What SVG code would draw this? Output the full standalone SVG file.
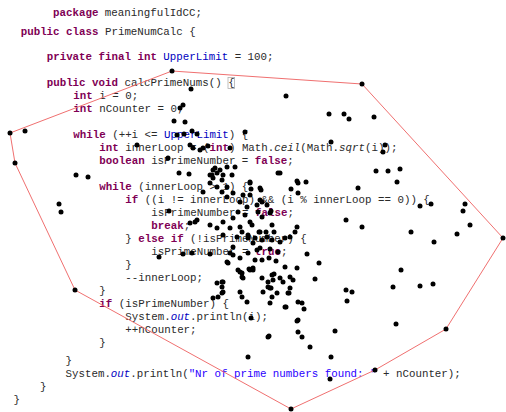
<svg xmlns="http://www.w3.org/2000/svg" width="506" height="412" viewBox="0 0 506 412">
  <style>
    .code { font-family: "Liberation Mono", "Courier New", monospace; font-size: 10.8px; fill: #2a2a2a; white-space: pre; }
    .kw { fill: #7f0055; font-weight: bold; }
    .fld { fill: #0000c0; }
    .str { fill: #2a00ff; }
    .stat { fill: #0000c0; font-style: italic; }
    .it { font-style: italic; }
    .hull { fill: none; stroke: #f07070; stroke-width: 1; }
    .pt { fill: #000; }
  </style>
  <rect width="506" height="412" fill="#fff"/>

  <!-- source listing -->
  <g id="code" class="code">
    <text x="53" y="16"><tspan class="kw">package</tspan> meaningfulIdCC;</text>
    <text x="20.7" y="34.5"><tspan class="kw">public</tspan> <tspan class="kw">class</tspan> PrimeNumCalc {</text>
    <text x="46.7" y="60"><tspan class="kw">private</tspan> <tspan class="kw">final</tspan> <tspan class="kw">int</tspan> <tspan class="fld">UpperLimit</tspan> = 100;</text>
    <rect x="228" y="77.5" width="6.6" height="11" fill="none" stroke="#b0b0b0" stroke-width="0.8"/>
    <text x="46.7" y="86"><tspan class="kw">public</tspan> <tspan class="kw">void</tspan> calcPrimeNums() {</text>
    <text x="73.3" y="99"><tspan class="kw">int</tspan> i = 0;</text>
    <text x="73.3" y="112"><tspan class="kw">int</tspan> nCounter = 0;</text>
    <text x="73.3" y="138"><tspan class="kw">while</tspan> (++i &lt;= <tspan class="fld">UpperLimit</tspan>) {</text>
    <text x="99.3" y="151"><tspan class="kw">int</tspan> innerLoop = (<tspan class="kw">int</tspan>) Math.<tspan class="it">ceil</tspan>(Math.<tspan class="it">sqrt</tspan>(i));</text>
    <text x="99.3" y="164"><tspan class="kw">boolean</tspan> isPrimeNumber = <tspan class="kw">false</tspan>;</text>
    <text x="99.3" y="190"><tspan class="kw">while</tspan> (innerLoop &gt; 1) {</text>
    <text x="125.3" y="203"><tspan class="kw">if</tspan> ((i != innerLoop) &amp;&amp; (i % innerLoop == 0)) {</text>
    <text x="151.3" y="216">isPrimeNumber = <tspan class="kw">false</tspan>;</text>
    <text x="151.3" y="229"><tspan class="kw">break</tspan>;</text>
    <text x="125.3" y="242">} <tspan class="kw">else</tspan> <tspan class="kw">if</tspan> (!isPrimeNumber) {</text>
    <text x="151.3" y="254.5">isPrimeNumber = <tspan class="kw">true</tspan>;</text>
    <text x="125.3" y="268">}</text>
    <text x="125.3" y="280.5">--innerLoop;</text>
    <text x="99.3" y="294">}</text>
    <text x="99.3" y="306.5"><tspan class="kw">if</tspan> (isPrimeNumber) {</text>
    <text x="125.3" y="319.5">System.<tspan class="stat">out</tspan>.println(i);</text>
    <text x="125.3" y="332.5">++nCounter;</text>
    <text x="99.3" y="345.5">}</text>
    <text x="65.5" y="363.5">}</text>
    <text x="65.5" y="377">System.<tspan class="stat">out</tspan>.println(<tspan class="str">"Nr of prime numbers found: "</tspan> + nCounter);</text>
    <text x="40" y="390">}</text>
    <text x="13.5" y="403">}</text>
  </g>

  <!-- convex hull of the point set -->
  <g id="hull">
    <polygon class="hull" points="10,133 172,71 362,84 503,238 446,329 375,370 291,409 75,290 15,163"/>
  </g>

  <!-- scattered points -->
  <g id="points" class="pt">
    <circle cx="172" cy="71" r="2.5"/><circle cx="362" cy="84" r="2.5"/><circle cx="503" cy="238" r="2.5"/>
    <circle cx="446" cy="329" r="2.5"/><circle cx="375" cy="370" r="2.5"/><circle cx="291" cy="409" r="2.5"/>
    <circle cx="75" cy="290" r="2.5"/><circle cx="15" cy="163" r="2.5"/><circle cx="10" cy="133" r="2.5"/>
    <circle cx="25" cy="131" r="2.5"/>
    <circle cx="191" cy="89" r="2.5"/><circle cx="286" cy="96" r="2.5"/><circle cx="183" cy="105" r="2.5"/>
    <circle cx="180" cy="108" r="2.5"/><circle cx="174" cy="121" r="2.5"/><circle cx="185" cy="122" r="2.5"/>
    <circle cx="329" cy="114" r="2.5"/><circle cx="344" cy="114" r="2.5"/><circle cx="349" cy="119" r="2.5"/>
    <circle cx="374" cy="117" r="2.5"/><circle cx="245" cy="132" r="2.5"/><circle cx="331" cy="142" r="2.5"/>
    <circle cx="385" cy="145" r="2.5"/><circle cx="383" cy="152" r="2.5"/>
    <circle cx="192" cy="131" r="2.5"/><circle cx="197" cy="134" r="2.5"/><circle cx="177" cy="135" r="2.5"/>
    <circle cx="184" cy="134" r="2.5"/>
    <circle cx="137" cy="145" r="2.5"/><circle cx="168" cy="158" r="2.5"/><circle cx="190" cy="145" r="2.5"/>
    <circle cx="203" cy="148" r="2.5"/><circle cx="208" cy="146" r="2.5"/><circle cx="200" cy="150" r="2.5"/>
    <circle cx="230" cy="148" r="2.5"/><circle cx="193" cy="148" r="2.5"/>
    <circle cx="76" cy="175" r="2.5"/><circle cx="88" cy="177" r="2.5"/><circle cx="59" cy="204" r="2.5"/>
    <circle cx="61" cy="212" r="2.5"/><circle cx="169" cy="211" r="2.5"/><circle cx="159" cy="257" r="2.5"/>
    <circle cx="280" cy="173" r="2.5"/><circle cx="297" cy="181" r="2.5"/><circle cx="306" cy="182" r="2.5"/>
    <circle cx="291" cy="189" r="2.5"/><circle cx="358" cy="188" r="2.5"/><circle cx="376" cy="171" r="2.5"/>
    <circle cx="388" cy="171" r="2.5"/><circle cx="400" cy="169" r="2.5"/><circle cx="397" cy="182" r="2.5"/>
    <circle cx="250" cy="183" r="2.5"/><circle cx="251" cy="189" r="2.5"/><circle cx="261" cy="190" r="2.5"/>
    <circle cx="243" cy="195" r="2.5"/>
    <circle cx="420" cy="206" r="2.5"/><circle cx="431" cy="204" r="2.5"/><circle cx="465" cy="204" r="2.5"/>
    <circle cx="463" cy="211" r="2.5"/><circle cx="470" cy="225" r="2.5"/><circle cx="457" cy="234" r="2.5"/>
    <circle cx="434" cy="242" r="2.5"/><circle cx="411" cy="232" r="2.5"/><circle cx="362" cy="227" r="2.5"/>
    <circle cx="346" cy="220" r="2.5"/>
    <circle cx="307" cy="254" r="2.5"/><circle cx="319" cy="263" r="2.5"/><circle cx="315" cy="279" r="2.5"/>
    <circle cx="401" cy="270" r="2.5"/><circle cx="393" cy="287" r="2.5"/><circle cx="420" cy="286" r="2.5"/>
    <circle cx="433" cy="284" r="2.5"/><circle cx="346" cy="290" r="2.5"/><circle cx="352" cy="292" r="2.5"/>
    <circle cx="347" cy="301" r="2.5"/><circle cx="302" cy="303" r="2.5"/><circle cx="304" cy="309" r="2.5"/>
    <circle cx="286" cy="307" r="2.5"/><circle cx="297" cy="321" r="2.5"/><circle cx="298" cy="332" r="2.5"/>
    <circle cx="302" cy="337" r="2.5"/><circle cx="335" cy="331" r="2.5"/><circle cx="269" cy="336" r="2.5"/>
    <circle cx="310" cy="347" r="2.5"/><circle cx="248" cy="357" r="2.5"/><circle cx="331" cy="357" r="2.5"/>
    <circle cx="396" cy="324" r="2.5"/><circle cx="330" cy="379" r="2.5"/><circle cx="251" cy="318" r="2.5"/>
    <circle cx="179" cy="173" r="2.5"/><circle cx="189" cy="174" r="2.5"/><circle cx="210" cy="175" r="2.5"/>
    <circle cx="215" cy="168" r="2.5"/><circle cx="220" cy="170" r="2.5"/><circle cx="217" cy="173" r="2.5"/>
    <circle cx="212" cy="175" r="2.5"/><circle cx="223" cy="175" r="2.5"/><circle cx="232" cy="175" r="2.5"/>
    <circle cx="213" cy="178" r="2.5"/><circle cx="222" cy="180" r="2.5"/><circle cx="210" cy="183" r="2.5"/>
    <circle cx="217" cy="187" r="2.5"/><circle cx="227" cy="187" r="2.5"/><circle cx="235" cy="167" r="2.5"/>
    <circle cx="227" cy="167" r="2.5"/><circle cx="213" cy="170" r="2.5"/>
    <circle cx="250" cy="182" r="2.5"/><circle cx="260" cy="188" r="2.5"/><circle cx="278" cy="173" r="2.5"/>
    <circle cx="222" cy="192" r="2.5"/><circle cx="233" cy="193" r="2.5"/><circle cx="227" cy="197" r="2.5"/>
    <circle cx="250" cy="195" r="2.5"/><circle cx="240" cy="202" r="2.5"/><circle cx="247" cy="207" r="2.5"/>
    <circle cx="257" cy="205" r="2.5"/><circle cx="262" cy="202" r="2.5"/><circle cx="203" cy="192" r="2.5"/>
    <circle cx="238" cy="212" r="2.5"/><circle cx="245" cy="215" r="2.5"/><circle cx="233" cy="218" r="2.5"/>
    <circle cx="250" cy="222" r="2.5"/><circle cx="223" cy="222" r="2.5"/><circle cx="210" cy="225" r="2.5"/>
    <circle cx="195" cy="222" r="2.5"/><circle cx="258" cy="212" r="2.5"/><circle cx="262" cy="217" r="2.5"/>
    <circle cx="252" cy="225" r="2.5"/><circle cx="240" cy="227" r="2.5"/><circle cx="230" cy="228" r="2.5"/>
    <circle cx="272" cy="225" r="2.5"/><circle cx="260" cy="232" r="2.5"/><circle cx="248" cy="235" r="2.5"/>
    <circle cx="237" cy="237" r="2.5"/><circle cx="223" cy="235" r="2.5"/><circle cx="217" cy="228" r="2.5"/>
    <circle cx="267" cy="237" r="2.5"/><circle cx="190" cy="223" r="2.5"/><circle cx="197" cy="220" r="2.5"/>
    <circle cx="298" cy="183" r="2.5"/><circle cx="298" cy="193" r="2.5"/><circle cx="260" cy="200" r="2.5"/>
    <circle cx="267" cy="205" r="2.5"/><circle cx="270" cy="213" r="2.5"/><circle cx="295" cy="232" r="2.5"/>
    <circle cx="297" cy="227" r="2.5"/><circle cx="285" cy="238" r="2.5"/><circle cx="271" cy="211" r="2.5"/>
    <circle cx="274" cy="232" r="2.5"/><circle cx="266" cy="232" r="2.5"/><circle cx="259" cy="232" r="2.5"/>
    <circle cx="280" cy="242" r="2.5"/><circle cx="242" cy="232" r="2.5"/>
    <circle cx="253" cy="243" r="2.5"/><circle cx="260" cy="248" r="2.5"/><circle cx="270" cy="249" r="2.5"/>
    <circle cx="233" cy="247" r="2.5"/>
    <circle cx="248" cy="238" r="2.5"/><circle cx="255" cy="238" r="2.5"/><circle cx="262" cy="240" r="2.5"/>
    <circle cx="272" cy="240" r="2.5"/><circle cx="290" cy="237" r="2.5"/><circle cx="230" cy="253" r="2.5"/>
    <circle cx="233" cy="255" r="2.5"/><circle cx="227" cy="262" r="2.5"/><circle cx="240" cy="258" r="2.5"/>
    <circle cx="248" cy="253" r="2.5"/><circle cx="257" cy="250" r="2.5"/><circle cx="278" cy="252" r="2.5"/>
    <circle cx="285" cy="267" r="2.5"/><circle cx="238" cy="270" r="2.5"/><circle cx="242" cy="273" r="2.5"/>
    <circle cx="243" cy="278" r="2.5"/><circle cx="250" cy="270" r="2.5"/><circle cx="253" cy="268" r="2.5"/>
    <circle cx="262" cy="278" r="2.5"/><circle cx="272" cy="275" r="2.5"/><circle cx="268" cy="282" r="2.5"/>
    <circle cx="280" cy="278" r="2.5"/><circle cx="290" cy="277" r="2.5"/><circle cx="297" cy="268" r="2.5"/>
    <circle cx="223" cy="282" r="2.5"/><circle cx="222" cy="287" r="2.5"/><circle cx="223" cy="292" r="2.5"/>
    <circle cx="218" cy="297" r="2.5"/><circle cx="213" cy="298" r="2.5"/><circle cx="242" cy="297" r="2.5"/>
    <circle cx="247" cy="302" r="2.5"/><circle cx="263" cy="292" r="2.5"/><circle cx="270" cy="288" r="2.5"/>
    <circle cx="272" cy="297" r="2.5"/><circle cx="277" cy="293" r="2.5"/><circle cx="288" cy="293" r="2.5"/>
    <circle cx="270" cy="303" r="2.5"/><circle cx="285" cy="307" r="2.5"/><circle cx="298" cy="302" r="2.5"/>
    <circle cx="290" cy="288" r="2.5"/>
    <circle cx="183" cy="254" r="2.5"/><circle cx="192" cy="253" r="2.5"/><circle cx="210" cy="254" r="2.5"/>
    <circle cx="228" cy="263" r="2.5"/><circle cx="240" cy="272" r="2.5"/><circle cx="242" cy="277" r="2.5"/>
    <circle cx="217" cy="283" r="2.5"/><circle cx="222" cy="282" r="2.5"/><circle cx="222" cy="293" r="2.5"/>
    <circle cx="240" cy="292" r="2.5"/>
    <circle cx="276" cy="261" r="2.5"/><circle cx="269" cy="258" r="2.5"/><circle cx="262" cy="260" r="2.5"/>
    <circle cx="255" cy="260" r="2.5"/><circle cx="249" cy="269" r="2.5"/><circle cx="253" cy="270" r="2.5"/>
    <circle cx="293" cy="280" r="2.5"/><circle cx="283" cy="282" r="2.5"/><circle cx="273" cy="280" r="2.5"/>
    <circle cx="268" cy="287" r="2.5"/><circle cx="271" cy="288" r="2.5"/><circle cx="289" cy="293" r="2.5"/>
    <circle cx="274" cy="274" r="2.5"/>
    <circle cx="268" cy="337" r="2.5"/><circle cx="298" cy="320" r="2.5"/>
  </g>
</svg>
